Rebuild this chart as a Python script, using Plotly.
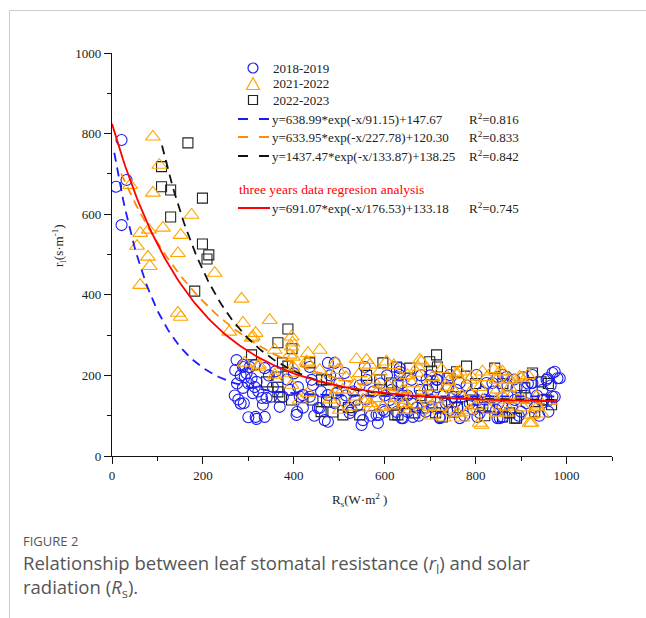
import numpy as np
import plotly.graph_objects as go

# ---------------- data ----------------
x_1819 = [21, 32, 9, 21, 274, 288, 475, 435, 314, 336, 307, 314, 340, 332, 316, 336, 369, 406, 413, 435,
          457, 475, 442, 475, 505, 527, 549, 585, 582, 633, 637, 611, 640, 677, 703, 721, 716, 758, 787, 815,
          809, 848, 868, 886, 925, 925, 956, 969, 980, 969, 837, 802, 743, 743, 859, 912, 560, 714, 391, 376,
          354, 288, 303, 292, 318, 288, 310, 330, 351, 290, 409, 407, 453, 468, 420, 439, 490, 512, 556, 633,
          633, 659, 552, 587, 596, 523, 490, 626, 637, 662, 494, 615, 692, 714, 765, 750, 695, 721, 765, 804,
          848, 824, 853, 804, 974, 985, 958, 923, 947, 974, 860, 860, 271, 275, 270, 283, 300, 318, 278, 283,
          600, 620, 650, 670, 690, 700, 730, 740, 760, 780, 790, 820, 830, 840, 870, 880, 890, 900, 910, 930,
          940, 950, 905, 870, 660, 680, 560, 575, 600, 545, 530, 640, 720, 755, 795, 850, 885, 960,
          296, 300, 322, 345, 360, 385, 400, 420, 445, 460, 480, 500, 515, 540, 570, 590, 605, 650, 675, 700,
          735, 775, 815, 845, 895, 915, 935, 965]
y_1819 = [784, 685, 668, 573, 238, 226, 231, 221, 226, 218, 193, 171, 144, 127, 97, 97, 122, 102, 147, 147,
          119, 85, 176, 151, 139, 114, 77, 82, 102, 209, 181, 139, 94, 164, 122, 97, 189, 164, 131, 159,
          107, 94, 196, 139, 201, 181, 189, 206, 193, 147, 181, 201, 201, 114, 122, 131, 189, 171, 164, 147,
          171, 221, 221, 196, 184, 169, 156, 144, 147, 131, 171, 109, 119, 89, 151, 189, 231, 206, 221, 218,
          201, 189, 89, 102, 114, 107, 131, 109, 94, 97, 156, 164, 189, 189, 181, 147, 164, 94, 94, 139,
          196, 181, 94, 97, 209, 193, 193, 181, 164, 147, 201, 97, 213, 180, 150, 130, 96, 92, 140, 200,
          150, 130, 150, 120, 110, 140, 150, 170, 120, 175, 150, 140, 120, 160, 150, 120, 170, 110, 150, 120,
          100, 140, 195, 175, 130, 200, 140, 160, 110, 175, 160, 150, 120, 135, 115, 130, 190, 110,
          205, 180, 160, 200, 210, 190, 205, 120, 100, 160, 200, 180, 150, 125, 100, 180, 200, 110, 100, 200,
          130, 100, 120, 115, 100, 180, 150, 175]

x_2122 = [90, 104, 90, 40, 175, 112, 62, 81, 151, 55, 79, 83, 145, 226, 62, 145, 151, 285, 288, 258,
          347, 316, 307, 395, 397, 358, 391, 395, 431, 457, 538, 560, 604, 567, 492, 431, 322, 398, 677, 673,
          457, 589, 637, 670, 758, 815, 859, 897, 787, 846, 736, 750, 809, 494, 534, 560, 582, 637, 673, 644,
          567, 523, 501, 413, 431, 747, 782, 809, 868, 919, 936, 903, 846, 875, 714, 699, 831, 934, 765, 886,
          310, 398, 323, 358, 358, 395, 395, 428, 292, 574, 640, 534, 497, 508, 486, 567, 578, 596, 552, 644,
          655, 626, 607, 681, 758, 791, 853, 787, 815, 848, 721, 760, 813, 846, 692, 787, 875, 901, 934, 923,
          923, 893, 868, 470, 480, 515, 545, 585, 615, 660, 690, 705, 725, 740, 770, 800, 825, 840, 860, 880,
          905, 915, 945, 620, 650, 700, 730, 770]
y_2122 = [792, 722, 653, 672, 598, 566, 553, 561, 548, 521, 494, 471, 503, 454, 424, 355, 345, 390, 330, 308,
          337, 305, 293, 296, 281, 263, 251, 271, 255, 263, 240, 238, 234, 226, 231, 231, 221, 221, 238, 221,
          213, 209, 193, 206, 201, 209, 209, 196, 189, 189, 171, 164, 171, 164, 147, 139, 143, 139, 127, 114,
          119, 122, 114, 139, 156, 114, 109, 82, 107, 82, 122, 139, 139, 169, 139, 122, 114, 147, 209, 189,
          296, 246, 226, 201, 193, 206, 176, 234, 231, 189, 164, 176, 213, 164, 147, 131, 119, 122, 139, 131,
          114, 143, 176, 234, 206, 196, 209, 156, 139, 164, 122, 107, 77, 107, 144, 114, 189, 193, 127, 82,
          102, 139, 122, 190, 140, 195, 205, 160, 125, 180, 170, 195, 215, 185, 150, 125, 195, 215, 150, 150,
          120, 200, 105, 225, 200, 100, 95, 95]

x_2223 = [167, 109, 109, 129, 199, 129, 199, 213, 209, 182, 387, 365, 396, 307, 375, 387, 340, 365, 365, 369,
          395, 461, 472, 472, 596, 655, 615, 589, 534, 508, 629, 666, 714, 699, 716, 703, 780, 758, 842, 739,
          705, 684, 712, 727, 769, 793, 831, 747, 925, 944, 967, 948, 886, 875, 908, 629, 365, 750, 859, 890,
          956, 435, 442, 622, 545, 486, 626, 560, 640, 680, 760, 800, 820, 860, 900, 930, 960, 520, 460]
y_2223 = [777, 718, 668, 660, 640, 593, 526, 499, 489, 409, 315, 281, 266, 251, 231, 223, 184, 171, 159, 146,
          139, 189, 189, 134, 231, 218, 181, 189, 139, 102, 102, 107, 251, 234, 221, 211, 223, 209, 218, 193,
          176, 119, 107, 97, 147, 139, 122, 134, 206, 184, 127, 139, 94, 107, 169, 176, 196, 109, 97, 94,
          139, 231, 139, 102, 102, 109, 221, 200, 130, 150, 120, 180, 100, 180, 150, 110, 180, 120, 110]

# fitted curves: y = a*exp(-x/b)+c  (parameters printed on the chart)
fit_names = ["2018-2019", "2021-2022", "2022-2023", "all"]
fit_a = [638.99, 633.95, 1437.47, 691.07]
fit_b = [91.15, 227.78, 133.87, 176.53]
fit_c = [147.67, 120.30, 138.25, 133.18]
fit_r2 = ["0.816", "0.833", "0.842", "0.745"]
fit_xmin = [5, 20, 110, 0]
fit_xmax = [980, 980, 980, 980]

# ---------------- styling ----------------
BLUE = "#1c1cf0"
ORANGE = "#FFA500"
BLACK = "#222222"
SERIF = "Liberation Serif"

W, H = 646, 618
L, R, T, B = 112, 34, 53, 162
PW, PH = W - L - R, H - T - B


def px(x):
    return (x - L) / PW


def py(y):
    return (H - B - y) / PH


fig = go.Figure()

fig.add_trace(go.Scatter(x=x_2223, y=y_2223, mode="markers", showlegend=False,
                         marker=dict(symbol="square-open", size=10, color=BLACK, line=dict(width=1.1))))
fig.add_trace(go.Scatter(x=x_1819, y=y_1819, mode="markers", showlegend=False,
                         marker=dict(symbol="circle-open", size=11, color=BLUE, line=dict(width=1.1))))
fig.add_trace(go.Scatter(x=x_2122, y=y_2122, mode="markers", showlegend=False,
                         marker=dict(symbol="triangle-up-open", size=13, color=ORANGE, line=dict(width=1.1))))

curve_style = [
    dict(color="#1a1aff", width=1.8, dash="9px,6px"),
    dict(color="#FF8C00", width=1.8, dash="9px,6px"),
    dict(color="#111111", width=1.8, dash="9px,6px"),
    dict(color="#FF0000", width=1.8),
]
for i in range(4):
    xs = np.linspace(fit_xmin[i], fit_xmax[i], 200)
    ys = fit_a[i] * np.exp(-xs / fit_b[i]) + fit_c[i]
    fig.add_trace(go.Scatter(x=xs, y=ys, mode="lines", line=curve_style[i], showlegend=False,
                             hoverinfo="skip"))

shapes = []
annotations = []

# page frame lines
shapes.append(dict(type="line", xref="paper", yref="paper", x0=px(9.5), x1=px(646), y0=py(10.5), y1=py(10.5),
                   line=dict(color="#cccccc", width=1)))
shapes.append(dict(type="line", xref="paper", yref="paper", x0=px(9.5), x1=px(9.5), y0=py(10.5), y1=py(618),
                   line=dict(color="#cccccc", width=1)))

# legend: markers
mx = 253
shapes.append(dict(type="circle", xref="paper", yref="paper", x0=px(mx - 5), x1=px(mx + 5), y0=py(68 - 5),
                   y1=py(68 + 5), line=dict(color=BLUE, width=1.2)))
tri = "M {} {} L {} {} L {} {} Z".format(px(mx), py(77.5), px(mx - 6.5), py(89.5), px(mx + 6.5), py(89.5))
shapes.append(dict(type="path", xref="paper", yref="paper", path=tri, line=dict(color=ORANGE, width=1.2)))
shapes.append(dict(type="rect", xref="paper", yref="paper", x0=px(mx - 4.5), x1=px(mx + 4.5), y0=py(100 - 4.5),
                   y1=py(100 + 4.5), line=dict(color=BLACK, width=1.2)))

leg_years = ["2018-2019", "2021-2022", "2022-2023"]
for yv, t in zip([68, 84, 100], leg_years):
    annotations.append(dict(xref="paper", yref="paper", x=px(271), y=py(yv), text=t, showarrow=False,
                            xanchor="left", yanchor="middle", font=dict(family=SERIF, size=13, color="#222")))

line_rows = [119, 137, 156, 208]
line_cols = ["#1a1aff", "#FF8C00", "#111111", "#FF0000"]
for i in range(4):
    yv = line_rows[i]
    if i < 3:
        for a, b in [(238, 248), (259, 269)]:
            shapes.append(dict(type="line", xref="paper", yref="paper", x0=px(a), x1=px(b), y0=py(yv), y1=py(yv),
                               line=dict(color=line_cols[i], width=2)))
    else:
        shapes.append(dict(type="line", xref="paper", yref="paper", x0=px(238), x1=px(270), y0=py(yv), y1=py(yv),
                           line=dict(color=line_cols[i], width=2)))
    eq = "y={:.2f}*exp(-x/{:.2f})+{:.2f}".format(fit_a[i], fit_b[i], fit_c[i])
    annotations.append(dict(xref="paper", yref="paper", x=px(270), y=py(yv), text=eq, showarrow=False,
                            xanchor="left", yanchor="middle", font=dict(family=SERIF, size=13, color="#222")))
    annotations.append(dict(xref="paper", yref="paper", x=px(467), y=py(yv), text="R<sup>2</sup>=" + fit_r2[i],
                            showarrow=False, xanchor="left", yanchor="middle",
                            font=dict(family=SERIF, size=13, color="#222")))

annotations.append(dict(xref="paper", yref="paper", x=px(237), y=py(189), text="three years data regresion analysis",
                        showarrow=False, xanchor="left", yanchor="middle",
                        font=dict(family=SERIF, size=13.5, color="#FF0000")))

# axis titles
annotations.append(dict(xref="paper", yref="paper", x=px(359), y=py(500),
                        text="R<sub>s</sub>(W·m<sup>2</sup> )", showarrow=False, xanchor="center",
                        yanchor="middle", font=dict(family=SERIF, size=13, color="#222")))
annotations.append(dict(xref="paper", yref="paper", x=px(59), y=py(246),
                        text="r<sub>l</sub>(s·m<sup>-1</sup>)", showarrow=False, textangle=-90,
                        xanchor="center", yanchor="middle", font=dict(family=SERIF, size=13, color="#222")))

# caption
annotations.append(dict(xref="paper", yref="paper", x=px(21), y=py(541), text="FIGURE 2", showarrow=False,
                        xanchor="left", yanchor="middle", font=dict(family="Open Sans", size=13, color="#555")))
annotations.append(dict(xref="paper", yref="paper", x=px(21), y=py(564),
                        text="Relationship between leaf stomatal resistance (<i>r</i><sub>l</sub>) and solar",
                        showarrow=False, xanchor="left", yanchor="middle",
                        font=dict(family="Open Sans", size=18.5, color="#555")))
annotations.append(dict(xref="paper", yref="paper", x=px(21), y=py(588),
                        text="radiation (<i>R</i><sub>s</sub>).",
                        showarrow=False, xanchor="left", yanchor="middle",
                        font=dict(family="Open Sans", size=18.5, color="#555")))

axis_common = dict(showline=True, linecolor="#111", linewidth=1.3, ticks="outside", ticklen=7, tickwidth=1.3,
                   tickcolor="#111", showgrid=False, zeroline=False,
                   tickfont=dict(family=SERIF, size=13, color="#222"),
                   minor=dict(ticks="outside", ticklen=4, tickwidth=1.2, tickcolor="#111", dtick=100, showgrid=False))

fig.update_layout(
    width=W, height=H, margin=dict(l=L, r=R, t=T, b=B, autoexpand=False),
    paper_bgcolor="white", plot_bgcolor="white",
    font=dict(family=SERIF, size=13, color="#222"),
    xaxis=dict(range=[0, 1100], dtick=200, tick0=0, **axis_common),
    yaxis=dict(range=[0, 1000], dtick=200, tick0=0, **axis_common),
    shapes=shapes, annotations=annotations, showlegend=False,
)

fig.write_html("out.html")
